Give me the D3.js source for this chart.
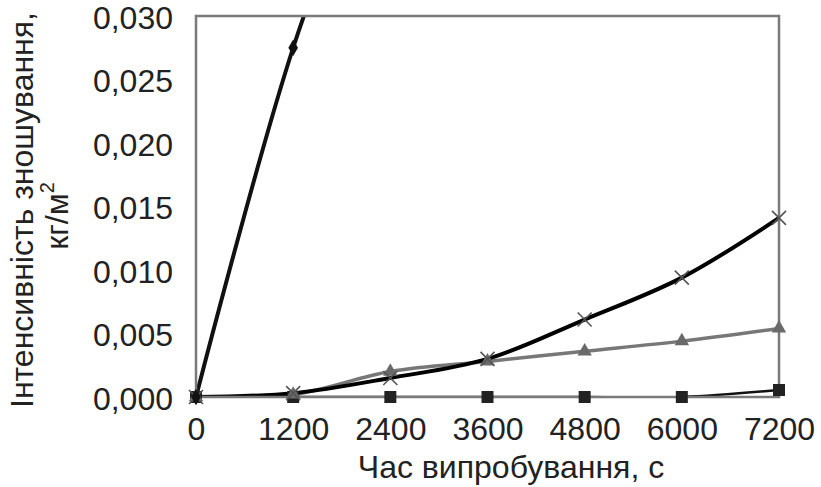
<!DOCTYPE html>
<html>
<head>
<meta charset="utf-8">
<script src="https://cdn.jsdelivr.net/npm/d3@7"></script>
<style>
  body { margin: 0; background: #fff; }
  text { font-family: "Liberation Sans", Arial, sans-serif; fill: #222; }
</style>
</head>
<body>
<div></div>
<script>
// час випробування, с
var times = [0, 1200, 2400, 3600, 4800, 6000, 7200];
var yTicks = [0, 0.005, 0.010, 0.015, 0.020, 0.025, 0.030];

// інтенсивність зношування, кг/м2
var diamondVals = [0, 0.0275, 0.048];
var squareVals = [0, 0, 0, 0, 0, 0, 0.00055];
var triangleVals = [0, 0.0002, 0.0020, 0.0028, 0.0036, 0.0044, 0.0054];
var crossVals = [0, 0.0003, 0.0015, 0.0030, 0.0061, 0.0094, 0.0141];

var width = 821;
var height = 487;
var pLeft = 196, pRight = 779, pTop = 16, pBottom = 397;

var svg = d3.select('div')
    .append('svg')
    .attr('width', width)
    .attr('height', height);

var x = d3.scaleLinear().domain([0, 7200]).range([pLeft, pRight]);
var y = d3.scaleLinear().domain([0, 0.030]).range([pBottom, pTop]);

svg.append('clipPath')
    .attr('id', 'plot')
    .append('rect')
    .attr('x', pLeft).attr('y', pTop)
    .attr('width', pRight - pLeft).attr('height', pBottom - pTop);

// осі без рисок
var xAxis = d3.axisBottom(x).tickValues(times).tickSize(0).tickPadding(20)
    .tickFormat(d3.format('d'));
var yAxis = d3.axisLeft(y).tickValues(yTicks).tickSize(0).tickPadding(23)
    .tickFormat(function(d) { return d3.format('.3f')(d).replace('.', ','); });

var gx = svg.append('g').attr('transform', 'translate(0,' + pBottom + ')').call(xAxis);
var gy = svg.append('g').attr('transform', 'translate(' + pLeft + ',0)').call(yAxis);
gx.select('.domain').remove();
gy.select('.domain').remove();
svg.selectAll('.tick text')
    .attr('font-size', 32)
    .attr('font-family', '"Liberation Sans", Arial, sans-serif')
    .attr('fill', '#222');
gy.selectAll('.tick text').attr('dy', '0.38em');

var line = d3.line()
    .x(function(d) { return x(d[0]); })
    .y(function(d) { return y(d[1]); })
    .curve(d3.curveCatmullRom.alpha(0.5));

function pairs(vals) {
    return vals.map(function(v, i) { return [times[i], v]; });
}

var lines = svg.append('g').attr('clip-path', 'url(#plot)');

// квадрати
lines.append('path')
    .attr('d', line(pairs(squareVals)))
    .attr('fill', 'none').attr('stroke', '#111').attr('stroke-width', 2.5);
// трикутники
lines.append('path')
    .attr('d', line(pairs(triangleVals)))
    .attr('fill', 'none').attr('stroke', '#777').attr('stroke-width', 3.5);
// хрестики
lines.append('path')
    .attr('d', line(pairs(crossVals)))
    .attr('fill', 'none').attr('stroke', '#000').attr('stroke-width', 4);
// ромби
lines.append('path')
    .attr('d', line(pairs(diamondVals)))
    .attr('fill', 'none').attr('stroke', '#111').attr('stroke-width', 4);

// рамка
svg.append('rect')
    .attr('x', pLeft).attr('y', pTop)
    .attr('width', pRight - pLeft).attr('height', pBottom - pTop)
    .attr('fill', 'none').attr('stroke', '#7a7a7a').attr('stroke-width', 2.5);

// маркери
svg.append('g').selectAll('path')
    .data(pairs(squareVals))
    .enter().append('path')
    .attr('transform', function(d) { return 'translate(' + x(d[0]) + ',' + y(d[1]) + ')'; })
    .attr('d', d3.symbol().type(d3.symbolSquare).size(144))
    .attr('fill', '#222');

svg.append('g').selectAll('path')
    .data(pairs(triangleVals))
    .enter().append('path')
    .attr('transform', function(d) { return 'translate(' + x(d[0]) + ',' + y(d[1]) + ')'; })
    .attr('d', d3.symbol().type(d3.symbolTriangle).size(90))
    .attr('fill', '#6a6a6a');

svg.append('g').selectAll('path')
    .data(pairs(crossVals))
    .enter().append('path')
    .attr('transform', function(d) { return 'translate(' + x(d[0]) + ',' + y(d[1]) + ')'; })
    .attr('d', 'M-7,-7L7,7M-7,7L7,-7')
    .attr('fill', 'none').attr('stroke', '#555').attr('stroke-width', 1.6);

svg.append('g').selectAll('path')
    .data(pairs(diamondVals).filter(function(d) { return d[1] <= 0.030; }))
    .enter().append('path')
    .attr('transform', function(d) { return 'translate(' + x(d[0]) + ',' + y(d[1]) + ')'; })
    .attr('d', d3.symbol().type(d3.symbolDiamond).size(80))
    .attr('fill', '#111');

// підписи осей
svg.append('text')
    .attr('x', 511).attr('y', 478)
    .attr('text-anchor', 'middle')
    .attr('font-size', 32)
    .text('Час випробування, с');

svg.append('text')
    .attr('transform', 'translate(33,210) rotate(-90)')
    .attr('text-anchor', 'middle')
    .attr('font-size', 32)
    .text('Інтенсивність зношування,');

var unit = svg.append('text')
    .attr('transform', 'translate(68,216) rotate(-90)')
    .attr('text-anchor', 'middle')
    .attr('font-size', 32);
unit.append('tspan').text('кг/м');
unit.append('tspan').attr('font-size', 20).attr('dy', -14).text('2');
</script>
</body>
</html>
